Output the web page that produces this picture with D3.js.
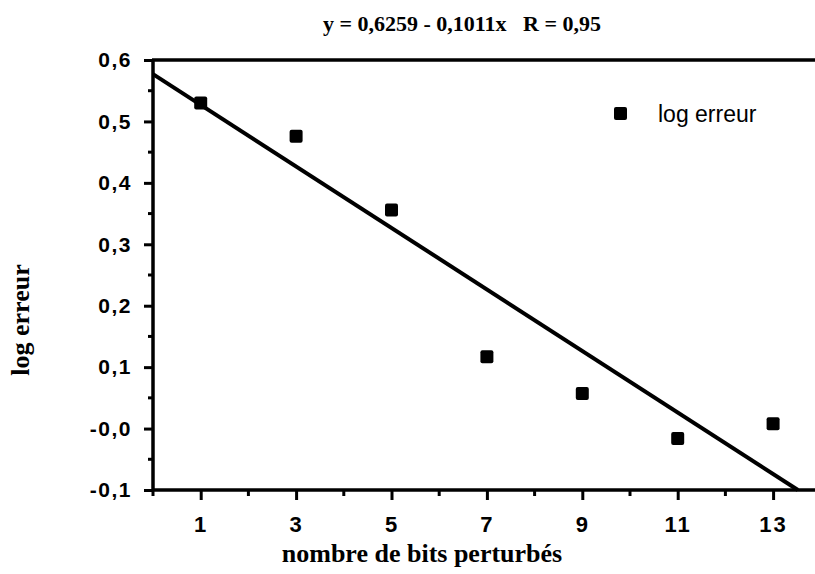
<!DOCTYPE html>
<html>
<head>
<meta charset="utf-8">
<script src="https://cdn.jsdelivr.net/npm/d3@7"></script>
<style>
body { margin: 0; background: #fff; }
svg { display: block; }
</style>
</head>
<body>
<div id="canvas"></div>
<script>
// ----------------------------------------------------------
// DATA -----------------------------------------------------
// ----------------------------------------------------------
var bits = [1, 3, 5, 7, 9, 11, 13];
var logErreur = [0.530, 0.476, 0.356, 0.117, 0.057, -0.016, 0.008];
// fitted line as drawn in the figure (two end points)
var fitX = [0, 13.52];
var fitY = [0.577, -0.1];
var xMajorTicks = [1, 3, 5, 7, 9, 11, 13];
var xMinorTicks = [0, 2, 4, 6, 8, 10, 12];
var yMajorTicks = [0.6, 0.5, 0.4, 0.3, 0.2, 0.1, 0.0, -0.1];
var yTickLabels = ["0,6", "0,5", "0,4", "0,3", "0,2", "0,1", "-0,0", "-0,1"];
var yMinorTicks = [0.55, 0.45, 0.35, 0.25, 0.15, 0.05, -0.05];

var text_title = "y = 0,6259 - 0,1011x   R = 0,95";
var text_xlabel = "nombre de bits perturbés";
var text_ylabel = "log erreur";
var text_legend = "log erreur";

// ----------------------------------------------------------
// STRUCTURE ------------------------------------------------
// ----------------------------------------------------------
var W = 815, H = 574;
var plotLeft = 153, plotTop = 60, plotBottom = 490;

var svg = d3.select("#canvas").append("svg")
  .attr("width", W)
  .attr("height", H);

var xScale = d3.scaleLinear().domain([0, 14]).range([plotLeft, plotLeft + 14 * 47.7]);
var yScale = d3.scaleLinear().domain([-0.1, 0.6]).range([plotBottom, plotTop]);

var sans = "'Liberation Sans', Arial, sans-serif";
var serif = "'Liberation Serif', 'Times New Roman', serif";

// ----------------------------------------------------------
// AXES -----------------------------------------------------
// ----------------------------------------------------------
// y axis (major ticks)
var yAxis = svg.append("g")
  .attr("transform", `translate(${plotLeft},0)`)
  .call(d3.axisLeft(yScale)
    .tickValues(yMajorTicks)
    .tickSize(9)
    .tickPadding(12)
    .tickFormat(function(d, i) { return yTickLabels[i]; }));
yAxis.select(".domain").remove();
yAxis.selectAll(".tick line").attr("stroke", "#000").attr("stroke-width", 3);
yAxis.selectAll(".tick text")
  .style("font-family", sans).style("font-weight", "bold")
  .style("font-size", "21px").style("letter-spacing", "1.5px")
  .attr("fill", "#000");

// y minor ticks
svg.append("g").selectAll("line")
  .data(yMinorTicks).enter().append("line")
  .attr("x1", plotLeft - 5).attr("x2", plotLeft)
  .attr("y1", function(d) { return yScale(d); })
  .attr("y2", function(d) { return yScale(d); })
  .attr("stroke", "#000").attr("stroke-width", 3);

// x axis (major ticks)
var xAxis = svg.append("g")
  .attr("transform", `translate(0,${plotBottom})`)
  .call(d3.axisBottom(xScale)
    .tickValues(xMajorTicks)
    .tickSize(10)
    .tickPadding(16)
    .tickFormat(d3.format("d")));
xAxis.select(".domain").remove();
xAxis.selectAll(".tick line").attr("stroke", "#000").attr("stroke-width", 3);
xAxis.selectAll(".tick text")
  .style("font-family", sans).style("font-weight", "bold")
  .style("font-size", "22px").style("letter-spacing", "2px")
  .attr("fill", "#000");

// x minor ticks
svg.append("g").selectAll("line")
  .data(xMinorTicks).enter().append("line")
  .attr("x1", function(d) { return xScale(d); })
  .attr("x2", function(d) { return xScale(d); })
  .attr("y1", plotBottom).attr("y2", plotBottom + 6)
  .attr("stroke", "#000").attr("stroke-width", 3);

// frame lines: left, bottom, top
svg.append("line")
  .attr("x1", plotLeft).attr("x2", plotLeft)
  .attr("y1", plotTop).attr("y2", plotBottom + 1)
  .attr("stroke", "#000").attr("stroke-width", 3.5);
svg.append("line")
  .attr("x1", plotLeft - 1).attr("x2", W)
  .attr("y1", plotBottom).attr("y2", plotBottom)
  .attr("stroke", "#000").attr("stroke-width", 3.5);
svg.append("line")
  .attr("x1", plotLeft - 1).attr("x2", W)
  .attr("y1", plotTop).attr("y2", plotTop)
  .attr("stroke", "#000").attr("stroke-width", 3.5);

// ----------------------------------------------------------
// GFX ------------------------------------------------------
// ----------------------------------------------------------
// fitted line
var fitData = fitX.map(function(x, i) { return { x: x, y: fitY[i] }; });
svg.append("path")
  .datum(fitData)
  .attr("fill", "none")
  .attr("stroke", "#000")
  .attr("stroke-width", 4)
  .attr("d", d3.line()
    .x(function(d) { return xScale(d.x); })
    .y(function(d) { return yScale(d.y); }));

// points
var size = 13;
svg.append("g").selectAll("rect")
  .data(bits).enter().append("rect")
  .attr("x", function(d) { return xScale(d) - size / 2; })
  .attr("y", function(d, i) { return yScale(logErreur[i]) - size / 2; })
  .attr("width", size).attr("height", size)
  .attr("rx", 2)
  .attr("fill", "#000");

// ----------------------------------------------------------
// LEGEND ---------------------------------------------------
// ----------------------------------------------------------
svg.append("rect")
  .attr("x", 614).attr("y", 107)
  .attr("width", 13).attr("height", 13)
  .attr("rx", 2)
  .attr("fill", "#000");
svg.append("text")
  .attr("x", 658).attr("y", 122)
  .style("font-family", sans).style("font-size", "23px")
  .attr("fill", "#000")
  .text(text_legend);

// ----------------------------------------------------------
// TEXT -----------------------------------------------------
// ----------------------------------------------------------
svg.append("text")
  .attr("x", 462).attr("y", 31)
  .attr("text-anchor", "middle")
  .style("font-family", serif).style("font-weight", "bold")
  .style("font-size", "22px")
  .style("white-space", "pre")
  .attr("fill", "#000")
  .text(text_title);

svg.append("text")
  .attr("x", 422).attr("y", 562)
  .attr("text-anchor", "middle")
  .style("font-family", serif).style("font-weight", "bold")
  .style("font-size", "26px")
  .attr("fill", "#000")
  .text(text_xlabel);

svg.append("text")
  .attr("transform", "translate(29,320) rotate(-90)")
  .attr("text-anchor", "middle")
  .style("font-family", serif).style("font-weight", "bold")
  .style("font-size", "26px")
  .attr("fill", "#000")
  .text(text_ylabel);
</script>
</body>
</html>
